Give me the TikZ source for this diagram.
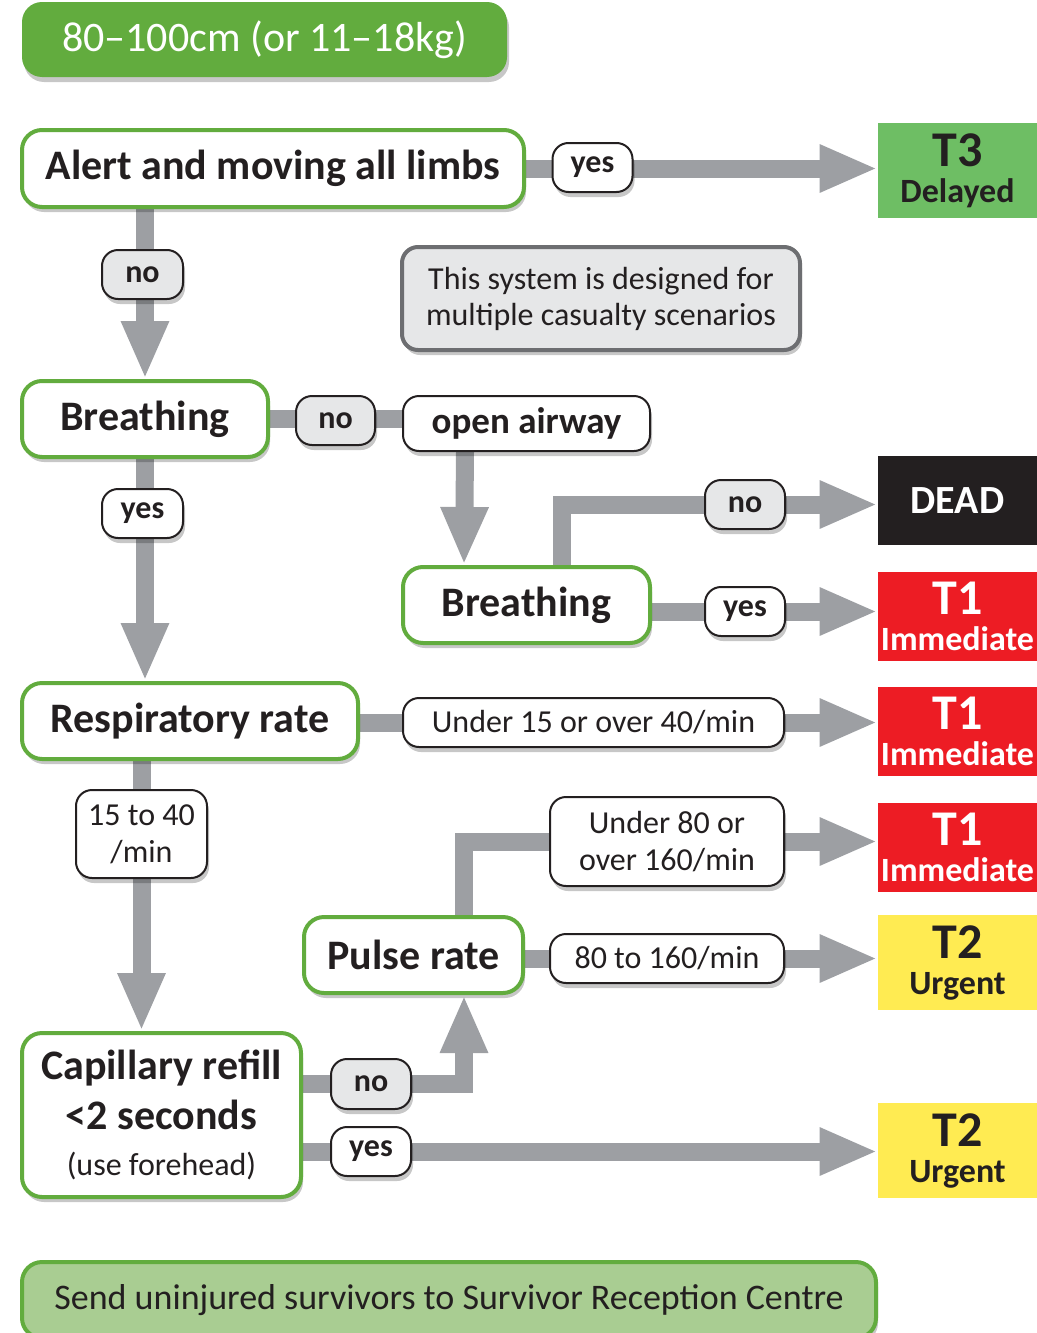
\documentclass[tikz,border=0pt]{standalone}
\usepackage{fontspec}
\setmainfont{Carlito}
\definecolor{boxgreen}{RGB}{98, 172, 62}
\definecolor{delaygreen}{RGB}{110, 190, 100}
\definecolor{footgreen}{RGB}{169, 205, 146}
\definecolor{triagered}{RGB}{237, 28, 36}
\definecolor{triageyellow}{RGB}{255, 235, 82}
\definecolor{deadblack}{RGB}{35, 31, 32}
\definecolor{ink}{RGB}{35, 31, 32}
\definecolor{flowgray}{RGB}{157, 159, 163}
\definecolor{nogray}{RGB}{230, 231, 232}
\definecolor{notegray}{RGB}{109, 110, 113}
\usetikzlibrary{arrows.meta, calc, shadows, backgrounds}
\newcommand{\triagecode}[1]{{\fontsize{25}{25}\selectfont #1}}

\begin{document}
\begin{tikzpicture}[x=0.5pt, y=-0.5pt,
  softshadow/.style={drop shadow={shadow xshift=1pt, shadow yshift=-2.5pt, opacity=0.22, fill=black}},
  question/.style={draw=boxgreen, line width=2pt, fill=white, rounded corners=10pt, inner sep=0pt, text=ink, align=center, font=\bfseries\fontsize{21}{24}\selectfont, softshadow},
  answer/.style={draw=ink, line width=1pt, fill=white, rounded corners=8pt, inner sep=0pt, text=ink, align=center, font=\bfseries\fontsize{16}{18}\selectfont, softshadow},
  answerno/.style={answer, fill=nogray},
  rangebox/.style={answer, font=\fontsize{16}{18.5}\selectfont},
  outcome/.style={inner sep=0pt, align=center, minimum width=79.5pt, text=ink, font=\bfseries\fontsize{17}{18}\selectfont},
  flow/.style={draw=flowgray, line width=9pt},
  flowarrow/.style={flow, -{Triangle[length=29pt, width=22pt]}}
]
  \useasboundingbox (0,0) rectangle (1037,1333);

  % header and footer
  \node[question, draw=none, fill=boxgreen, text=white, font=\fontsize{21}{24}\selectfont, minimum width=242.5pt, minimum height=37.5pt] (header) at (264.5, 39.5) {80--100cm (or 11--18kg)};
  \node[question, fill=footgreen, font=\fontsize{18}{20}\selectfont, minimum width=427pt, minimum height=38pt] (footer) at (449, 1300) {Send uninjured survivors to Survivor Reception Centre};

  % questions
  \node[question, minimum width=251pt, minimum height=38.5pt] (alert) at (273, 168.5) {Alert and moving all limbs};
  \node[question, minimum width=123pt, minimum height=38pt] (breath1) at (145, 419) {Breathing};
  \node[question, minimum width=123.5pt, minimum height=38pt] (breath2) at (526.5, 605) {Breathing};
  \node[question, minimum width=168pt, minimum height=38pt] (resp) at (190, 721) {Respiratory rate};
  \node[question, minimum width=109.5pt, minimum height=38pt] (pulse) at (413.5, 955) {Pulse rate};
  \node[question, minimum width=139.5pt, minimum height=82pt] (cap) at (161.5, 1115) {Capillary refill\\[1pt]<2 seconds\\[-1pt]{\mdseries\fontsize{16}{18}\selectfont (use forehead)}};

  \node[answer, draw=notegray, line width=2pt, fill=nogray, font=\fontsize{16}{18}\selectfont, minimum width=199pt, minimum height=51.5pt] (note) at (601, 298.5) {This system is designed for\\multiple casualty scenarios};

  % answers
  \node[answer, minimum width=40pt, minimum height=24.5pt] (yesT3) at (592.5, 167.5) {yes};
  \node[answerno, minimum width=40.5pt, minimum height=24.5pt] (no1) at (142.5, 274.5) {no};
  \node[answerno, minimum width=39.5pt, minimum height=24.5pt] (no2) at (335.5, 420.5) {no};
  \node[answer, font=\bfseries\fontsize{18.5}{20}\selectfont, minimum width=123.5pt, minimum height=27.5pt] (airway) at (526.5, 423.5) {open airway};
  \node[answerno, minimum width=40pt, minimum height=24.5pt] (noD) at (745, 504.5) {no};
  \node[answer, minimum width=40pt, minimum height=24.5pt] (yes2) at (745, 611.5) {yes};
  \node[answer, minimum width=40.5pt, minimum height=24.5pt] (yes1) at (142.5, 513.5) {yes};
  \node[rangebox, minimum width=190.5pt, minimum height=24.5pt] (under15) at (593.5, 722.5) {Under 15 or over 40/min};
  \node[rangebox, minimum width=65.5pt, minimum height=44pt] (range1) at (141.5, 834) {15 to 40\\/min};
  \node[rangebox, minimum width=117pt, minimum height=44.5pt] (under80) at (667, 841.5) {Under 80 or\\over 160/min};
  \node[rangebox, minimum width=117pt, minimum height=24.5pt] (p80) at (667, 958.5) {80 to 160/min};
  \node[answerno, minimum width=40pt, minimum height=25pt] (no3) at (371, 1084) {no};
  \node[answer, minimum width=40pt, minimum height=24.5pt] (yes3) at (371, 1151.5) {yes};

  % outcomes
  \node[outcome, fill=delaygreen, minimum height=47.5pt] (t3) at (957.5, 170.5) {\triagecode{T3}\\Delayed};
  \node[outcome, fill=deadblack, text=white, font=\bfseries\fontsize{20}{22}\selectfont, minimum height=44.5pt] (dead) at (957.5, 500.5) {DEAD};
  \node[outcome, fill=triagered, text=white, minimum height=44.5pt] (t1a) at (957.5, 616.5) {\triagecode{T1}\\Immediate};
  \node[outcome, fill=triagered, text=white, minimum height=44.5pt] (t1b) at (957.5, 731.5) {\triagecode{T1}\\Immediate};
  \node[outcome, fill=triagered, text=white, minimum height=44.5pt] (t1c) at (957.5, 847.5) {\triagecode{T1}\\Immediate};
  \node[outcome, fill=triageyellow, minimum height=47.5pt] (t2a) at (957.5, 962.5) {\triagecode{T2}\\Urgent};
  \node[outcome, fill=triageyellow, minimum height=47.5pt] (t2b) at (957.5, 1150.5) {\triagecode{T2}\\Urgent};

  % connectors
  \begin{scope}[on background layer]
    \draw[flowarrow] (alert.east) -- (alert.east -| t3.west);
    \draw[flowarrow] (alert.south -| breath1) -- (breath1.north);
    \draw[flow] (breath1.east) -- (breath1.east -| airway.west);
    \draw[flowarrow] ($(airway.south west)+(63,0)$) -- ($(breath2.north west)+(63,0)$);
    \draw[flowarrow] ($(breath2.north west)+(161,0)$) |- (noD.west) -- (dead.west |- noD);
    \draw[flowarrow] (breath2.east |- yes2) -- (t1a.west |- yes2);
    \draw[flowarrow] (breath1.south) -- (resp.north -| breath1);
    \draw[flowarrow] (resp.east |- under15) -- (t1b.west |- under15);
    \draw[flowarrow] (resp.south -| range1) -- (cap.north -| range1);
    \draw[flowarrow] ($(pulse.north west)+(162,0)$) |- (under80.west) -- (t1c.west |- under80);
    \draw[flowarrow] (pulse.east |- p80) -- (t2a.west |- p80);
    \draw[flowarrow] (cap.east |- no3) -| ($(pulse.south west)+(162,0)$);
    \draw[flowarrow] (cap.east |- yes3) -- (t2b.west |- yes3);
  \end{scope}
\end{tikzpicture}
\end{document}
